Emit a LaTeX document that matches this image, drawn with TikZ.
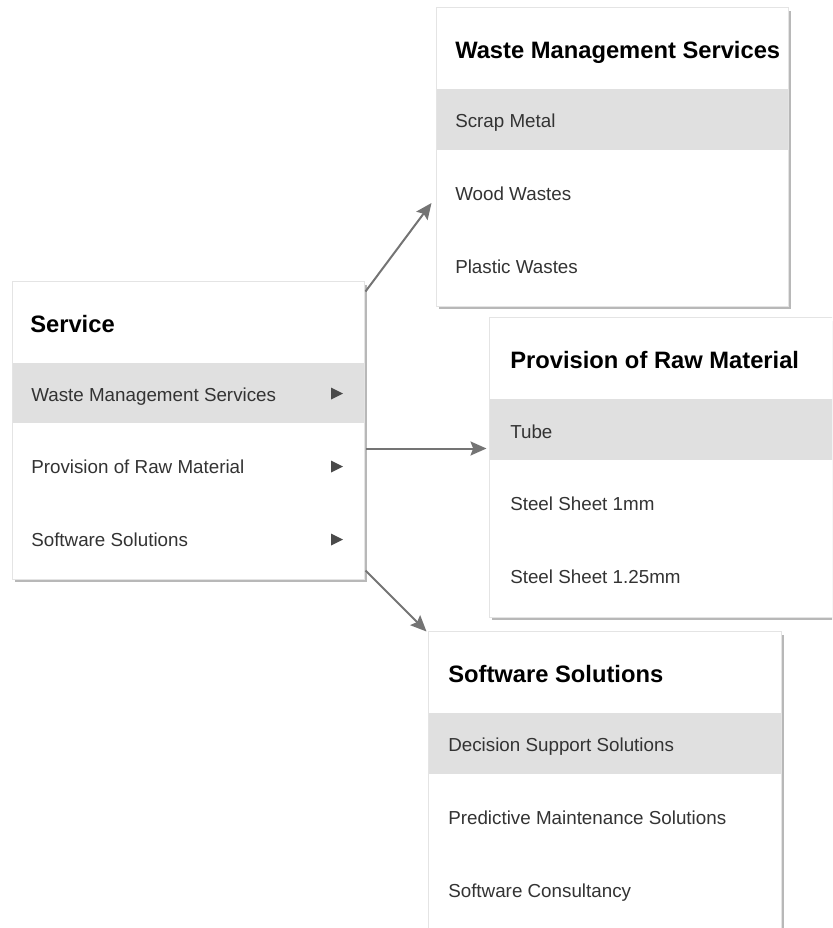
\documentclass[tikz,border=0pt]{standalone}
\usepackage{fontspec}
\setmainfont{Liberation Sans}
\usetikzlibrary{arrows.meta,calc,fit}
\definecolor{rowhl}{HTML}{E0E0E0}
\definecolor{bord}{HTML}{E4E4E4}
\definecolor{shad}{HTML}{B8B8B8}
\definecolor{arr}{HTML}{747474}
\definecolor{itemtxt}{HTML}{333333}
\definecolor{tri}{HTML}{4A4A4A}
\begin{document}
\begin{tikzpicture}[x=0.75pt,y=-0.75pt,
  menubox/.style={draw=bord,line width=0.75pt,fill=white,inner sep=0pt},
  hlrow/.style={fill=rowhl,inner sep=0pt},
  boxtitle/.style={anchor=base west,inner sep=0pt,text=black,font=\fontsize{17.8}{20}\selectfont\bfseries},
  boxitem/.style={anchor=base west,inner sep=0pt,text=itemtxt,font=\fontsize{14.1}{17}\selectfont},
  conn/.style={draw=arr,line width=1.5pt,-{Stealth[length=12pt,width=10.5pt,inset=2pt]}}]
\useasboundingbox (0,0) rectangle (832,928);
\clip (0,0) rectangle (832,928);

% ---- Service box ----
\fill[shad] (15,285) rectangle (367,582);
\node[menubox,fit={(12,281) (364,579)}] (svc) {};
\node[hlrow,fit={(12.5,363) (363.5,423)}] (svch) {};
\node[boxtitle] (svct) at (30,332) {Service};
\node[boxitem] (svc1) at (31,401) {Waste Management Services};
\node[boxitem] (svc2) at (31,473) {Provision of Raw Material};
\node[boxitem] (svc3) at (31,546) {Software Solutions};
\fill[tri] (331,387.5) -- (331,399.5) -- (343,393.5) -- cycle;
\fill[tri] (331,460.5) -- (331,472.5) -- (343,466.5) -- cycle;
\fill[tri] (331,533.5) -- (331,545.5) -- (343,539.5) -- cycle;

% ---- Waste Management Services box ----
\fill[shad] (439,11) rectangle (791,309);
\node[menubox,fit={(436,7) (788,306)}] (wms) {};
\node[hlrow,fit={(436.5,89) (787.5,150)}] (wmsh) {};
\node[boxtitle] (wmst) at (455,58) {Waste Management Services};
\node[boxitem] (wms1) at (455,127) {Scrap Metal};
\node[boxitem] (wms2) at (455,200) {Wood Wastes};
\node[boxitem] (wms3) at (455,273) {Plastic Wastes};

% ---- Provision of Raw Material box ----
\fill[shad] (492,321) rectangle (860,620);
\node[menubox,fit={(489,317) (856,617)}] (prm) {};
\node[hlrow,fit={(489.5,399) (855.5,460)}] (prmh) {};
\node[boxtitle] (prmt) at (510,368) {Provision of Raw Material};
\node[boxitem] (prm1) at (510,438) {Tube};
\node[boxitem] (prm2) at (510,510) {Steel Sheet 1mm};
\node[boxitem] (prm3) at (510,583) {Steel Sheet 1.25mm};

% ---- Software Solutions box ----
\fill[shad] (431,635) rectangle (784,970);
\node[menubox,fit={(428,631) (781,966)}] (sws) {};
\node[hlrow,fit={(428.5,713) (780.5,774)}] (swsh) {};
\node[boxtitle] (swst) at (448,682) {Software Solutions};
\node[boxitem] (sws1) at (448,751) {Decision Support Solutions};
\node[boxitem] (sws2) at (448,824) {Predictive Maintenance Solutions};
\node[boxitem] (sws3) at (448,897) {Software Consultancy};

% ---- connectors ----
\coordinate (a1s) at ($(svc.north east)+(1,11)$);
\coordinate (a1e) at ($(wms.west)+(-4,46.5)$);
\coordinate (a2s) at ($(svc.north east)+(1,168)$);
\coordinate (a2e) at ($(prm.north west)+(-2,132)$);
\coordinate (a3s) at ($(svc.south east)+(1,-9)$);
\coordinate (a3e) at ($(sws.north west)+(-1,1)$);
\draw[conn] (a1s) -- (a1e);
\draw[conn] (a2s) -- (a2e);
\draw[conn] (a3s) -- (a3e);
\end{tikzpicture}
\end{document}
